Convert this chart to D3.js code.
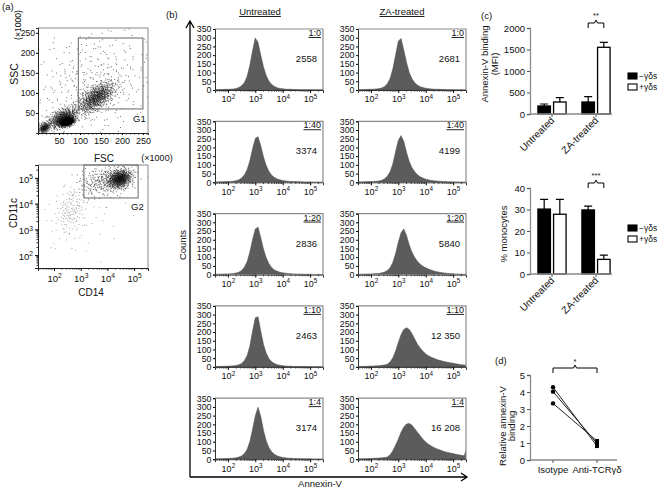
<!DOCTYPE html>
<html><head><meta charset="utf-8">
<script src="https://cdn.jsdelivr.net/npm/d3@7"></script>
<style>
body{margin:0;background:#fff}
svg{display:block}
text{font-family:"Liberation Sans",Arial,Helvetica,sans-serif;fill:#111}
</style>
</head><body>
<svg id="c" width="661" height="489"></svg>
<script>
// ---------------- DATA ----------------
// (a) scatter clusters (FSC/SSC x1000)
const fscSscClusters = [
  {cx:68, cy:29, sx:8, sy:5, rho:0.35, n:900, b:[2,3]},
  {cx:58, cy:38, sx:17, sy:13, rho:0.5, n:650, b:[3,5]},
  {cx:14, cy:14, sx:7, sy:7, rho:0.4, n:200, b:[5,7]},
  {cx:138, cy:90, sx:22, sy:19, rho:0.6, n:800, b:[2,5]},
  {cx:130, cy:125, sx:75, sy:70, rho:0.2, n:380, b:[3,7]}
];
const fscTicks = [50,100,150,200,250];
const sscTicks = [50,100,150,200,250];
const gateG1 = {x0:96, x1:250, y0:60, y1:237};
// (a) CD14/CD11c clusters (log10 units)
const cd14Cd11cClusters = [
  {cx:4.45, cy:4.98, sx:0.22, sy:0.18, rho:0.2, n:650, b:[2,3]},
  {cx:3.9, cy:4.9, sx:0.5, sy:0.3, rho:0.3, n:320, b:[3,5]},
  {cx:2.6, cy:3.75, sx:0.3, sy:0.45, rho:0.3, n:130, b:[5,7]},
  {cx:3.0, cy:3.4, sx:0.8, sy:0.9, rho:0.2, n:50, b:[2,7]}
];
const logTicks = [2,3,4,5];
const gateG2 = {x0:3.12, x1:5.15, y0:4.22, y1:5.5};

// (b) histograms: log10(Annexin-V) bins and counts
const histBins = [1.5,1.6,1.7,1.8,1.9,2.0,2.1,2.2,2.3,2.4,2.5,2.6,2.7,2.8,2.9,3.0,3.1,3.2,3.3,3.4,3.5,3.6,3.7,3.8,3.9,4.0,4.1,4.2,4.3,4.4,4.5,4.6,4.7,4.8,4.9,5.0,5.1,5.2,5.3,5.4,5.5];
const untreated_1_0  = [2,2,3,3,4,4,5,6,9,14,24,42,78,140,225,298,272,200,132,82,50,31,20,13,9,7,5,4,4,3,3,2,2,2,2,1,1,1,1,1,1];
const zaTreated_1_0  = [2,2,3,3,4,4,5,6,8,12,20,36,66,120,200,280,296,230,158,100,64,42,28,19,14,10,8,6,5,4,4,3,3,2,2,2,1,1,1,1,1];
const untreated_1_40 = [2,2,3,3,4,4,5,6,9,14,24,42,72,122,192,252,262,210,145,96,62,40,27,19,14,10,8,6,5,4,4,3,3,2,2,2,1,1,1,1,1];
const zaTreated_1_40 = [2,2,3,3,4,4,5,6,8,12,20,34,60,105,175,240,268,235,172,120,84,60,43,32,24,18,14,11,9,7,6,5,4,3,3,2,2,2,1,1,1];
const untreated_1_20 = [2,2,3,3,4,4,5,6,9,14,24,42,74,128,200,262,272,212,146,96,62,40,27,19,14,10,8,6,5,4,4,3,3,2,2,2,1,1,1,1,1];
const zaTreated_1_20 = [2,2,3,3,4,4,5,6,7,10,15,24,40,70,120,185,240,262,225,170,128,98,76,60,48,39,32,26,21,17,14,11,9,7,6,5,4,3,3,2,2];
const untreated_1_10 = [2,2,3,3,4,4,5,6,8,12,20,36,64,118,205,282,288,205,128,78,47,29,19,13,9,7,5,4,4,3,3,2,2,2,1,1,1,1,1,1,1];
const zaTreated_1_10 = [2,2,3,3,4,4,5,6,7,9,11,15,28,52,90,140,185,215,225,215,190,160,130,108,90,74,64,56,49,43,38,34,30,27,24,21,18,15,13,11,9];
const untreated_1_4  = [2,2,3,3,4,4,5,6,8,12,19,32,56,100,170,250,298,245,165,105,66,42,28,19,14,10,8,6,5,4,4,3,3,2,2,2,1,1,1,1,1];
const zaTreated_1_4  = [2,2,3,3,4,4,5,6,7,8,10,12,25,48,80,115,155,185,202,205,195,175,155,135,115,98,86,76,67,60,54,48,43,39,35,32,28,25,22,20,60];
const ratioLabels = ["1:0","1:40","1:20","1:10","1:4"];
const mfiUntreated = ["2558","3374","2836","2463","3174"];
const mfiZA = ["2681","4199","5840","12 350","16 208"];
const countTicks = [0,50,100,150,200,250,300,350];

// (c) bar charts
const groups = ["Untreated","ZA-treated"];
const seriesNames = ["\u2212\u03b3\u03b4s","+\u03b3\u03b4s"];
const mfiMinus = [186,279],   mfiMinusErr = [47,123];
const mfiPlus  = [279,1551],  mfiPlusErr  = [100,116];
const mfiTicks = [0,500,1000,1500,2000];
const monoMinus = [30.2,29.8], monoMinusErr = [4.5,1.8];
const monoPlus  = [27.8,6.8],  monoPlusErr  = [6.9,2.0];
const monoTicks = [0,10,20,30,40];

// (d) paired
const pairCats = ["Isotype","Anti-TCR\u03b3\u03b4"];
const isotypeVals = [4.28,4.02,3.33];
const antiTcrVals = [0.82,0.98,1.12];
const relTicks = [0,1,2,3,4,5];

// ---------------- DRAW ----------------
const svg = d3.select("#c");
const defs = svg.append("defs");
const fmtInt = d3.format("d");

function txt(g, x, y, s, size, anchor, rot){
  const t = g.append("text").attr("x",x).attr("y",y).attr("font-size",size)
    .attr("text-anchor",anchor||"start").text(s);
  if(rot) t.attr("transform",`rotate(${rot},${x},${y})`);
  return t;
}
function pow10(t, e){
  t.text(null);
  t.append("tspan").text("10");
  t.append("tspan").attr("dy",-3.5).attr("font-size","0.7em").text(e);
}
function halton(i,b){let f=1,r=0;while(i>0){f/=b;r+=f*(i%b);i=Math.floor(i/b);}return r;}
function clusterPts(c){
  const pts=[];
  for(let i=1;i<=c.n;i++){
    const u=halton(i+17,c.b[0]), v=halton(i+17,c.b[1]);
    const rr=Math.sqrt(-2*Math.log(Math.max(u,1e-6)));
    const z1=rr*Math.cos(2*Math.PI*v), z2=rr*Math.sin(2*Math.PI*v);
    pts.push([c.cx+c.sx*z1, c.cy+c.sy*(c.rho*z1+Math.sqrt(1-c.rho*c.rho)*z2)]);
  }
  return pts;
}

// panel labels
txt(svg,2,10,"(a)",9.5);
txt(svg,166,18,"(b)",9.5);
txt(svg,481,19,"(c)",9.5);
txt(svg,495,364,"(d)",9.5);

// ---- (a) top scatter
{
  const L=38,R=148,T=28,B=133;
  const x=d3.scaleLinear().domain([0,262]).range([L,R]);
  const y=d3.scaleLinear().domain([0,262]).range([B,T]);
  defs.append("clipPath").attr("id","cs1").append("rect").attr("x",L).attr("y",T).attr("width",R-L).attr("height",B-T);
  const g=svg.append("g").attr("clip-path","url(#cs1)");
  fscSscClusters.forEach(c=>{
    g.selectAll(null).data(clusterPts(c)).enter().append("rect")
      .attr("x",d=>x(d[0])).attr("y",d=>y(d[1])).attr("width",1).attr("height",1)
      .attr("fill","#000").attr("opacity",0.55);
  });
  svg.append("path").attr("d",`M${L},${T}H${R}V${B}`).attr("fill","none").attr("stroke","#888");
  svg.append("rect").attr("x",x(gateG1.x0)).attr("y",y(gateG1.y1)).attr("width",x(gateG1.x1)-x(gateG1.x0))
    .attr("height",y(gateG1.y0)-y(gateG1.y1)).attr("fill","none").attr("stroke","#666");
  txt(svg,133,122,"G1",9.5);
  const ax=svg.append("g").attr("transform",`translate(0,${B})`).call(d3.axisBottom(x).tickValues(fscTicks).tickSize(2).tickPadding(3));
  const ay=svg.append("g").attr("transform",`translate(${L},0)`).call(d3.axisLeft(y).tickValues(sscTicks).tickSize(2).tickPadding(1));
  ax.selectAll("text").attr("font-size",9).attr("font-family",null);
  ay.selectAll("text").attr("font-size",8.6).attr("font-family",null);
  [ax,ay].forEach(a=>a.select(".domain").attr("stroke","#222"));
  svg.append("g").selectAll("line").data(d3.range(10,261,10).filter(v=>v%50)).enter().append("line")
    .attr("x1",d=>x(d)).attr("x2",d=>x(d)).attr("y1",B).attr("y2",B+1.5).attr("stroke","#222");
  txt(svg,18,74,"SSC",10.5,"middle",-90);
  txt(svg,21,25,"(\u00d71000)",8.6,"middle",-90);
  txt(svg,104,162,"FSC",10,"middle");
  txt(svg,157,161,"(\u00d71000)",9,"middle");
}

// ---- (a) bottom scatter
{
  const L=38,R=148,T=165,B=268;
  const x=d3.scaleLinear().domain([1.4,5.52]).range([L,R]);
  const y=d3.scaleLinear().domain([1.5,5.5]).range([B,T]);
  defs.append("clipPath").attr("id","cs2").append("rect").attr("x",L).attr("y",T).attr("width",R-L).attr("height",B-T);
  const g=svg.append("g").attr("clip-path","url(#cs2)");
  cd14Cd11cClusters.forEach((c,i)=>{
    g.selectAll(null).data(clusterPts(c)).enter().append("rect")
      .attr("x",d=>x(d[0])).attr("y",d=>y(d[1])).attr("width",1).attr("height",1)
      .attr("fill",i<2?"#000":"#222").attr("opacity",i<2?0.55:0.4);
  });
  svg.append("path").attr("d",`M${L},${T}H${R}V${B}`).attr("fill","none").attr("stroke","#888");
  svg.append("rect").attr("x",x(gateG2.x0)).attr("y",y(gateG2.y1)).attr("width",x(gateG2.x1)-x(gateG2.x0))
    .attr("height",y(gateG2.y0)-y(gateG2.y1)).attr("fill","none").attr("stroke","#666");
  txt(svg,131,210,"G2",9.5);
  const ax=svg.append("g").attr("transform",`translate(0,${B})`).call(d3.axisBottom(x).tickValues(logTicks).tickSize(3).tickPadding(4));
  const ay=svg.append("g").attr("transform",`translate(${L},0)`).call(d3.axisLeft(y).tickValues(logTicks).tickSize(3).tickPadding(2));
  [ax,ay].forEach(a=>{a.selectAll(".tick text").attr("font-size",9.5).attr("font-family",null).each(function(d){pow10(d3.select(this),d);});a.select(".domain").attr("stroke","#222");});
  ay.selectAll(".tick text").attr("dy","0.45em");
  const minors=[];
  for(let k=1;k<=5;k++)for(let m=2;m<=9;m++)minors.push(k+Math.log10(m));
  svg.append("g").selectAll("line").data(minors.filter(v=>v>1.4&&v<5.52)).enter().append("line")
    .attr("x1",d=>x(d)).attr("x2",d=>x(d)).attr("y1",B).attr("y2",B+1.5).attr("stroke","#222");
  svg.append("g").selectAll("line").data(minors.filter(v=>v>1.5&&v<5.5)).enter().append("line")
    .attr("y1",d=>y(d)).attr("y2",d=>y(d)).attr("x1",L).attr("x2",L-1.5).attr("stroke","#222");
  txt(svg,17,213,"CD11c",10,"middle",-90);
  txt(svg,91,296,"CD14",10,"middle");
}

// ---- (b) histograms
{
  const rows=[[untreated_1_0,zaTreated_1_0],[untreated_1_40,zaTreated_1_40],[untreated_1_20,zaTreated_1_20],
              [untreated_1_10,zaTreated_1_10],[untreated_1_4,zaTreated_1_4]];
  const colLeft=[215,358], hw=108, hh=61;
  const rowTop=[29,121.3,213.6,305.9,398.2];
  const hx=d3.scaleLinear().domain([1.53,5.47]).range([0,hw]);
  const hy=d3.scaleLinear().domain([0,350]).range([hh,0]);
  defs.append("clipPath").attr("id","ch").append("rect").attr("x",0).attr("y",-2).attr("width",hw).attr("height",hh+2);
  const area=d3.area().x((d,i)=>hx(histBins[i])).y0(hh).y1(d=>hy(d));
  const minors=[];
  for(let k=1;k<=5;k++)for(let m=2;m<=9;m++)minors.push(k+Math.log10(m));
  rows.forEach((pair,r)=>{
    pair.forEach((vals,c)=>{
      const g=svg.append("g").attr("transform",`translate(${colLeft[c]},${rowTop[r]})`);
      g.append("path").attr("clip-path","url(#ch)").attr("d",area(vals)).attr("fill","#5c5c5c").attr("stroke","#4a4a4a").attr("stroke-width",0.5);
      g.append("path").attr("d",`M0,0H${hw}V${hh}`).attr("fill","none").attr("stroke","#8a8a8a").attr("stroke-width",1.2);
      const ay=g.append("g").call(d3.axisLeft(hy).tickValues(countTicks).tickSize(2).tickPadding(1.5));
      ay.selectAll("text").attr("font-size",8.8).attr("font-family",null);
      ay.select(".domain").attr("stroke","#333");
      const ax=g.append("g").attr("transform",`translate(0,${hh})`).call(d3.axisBottom(hx).tickValues(logTicks).tickSize(3).tickPadding(3));
      ax.selectAll(".tick text").attr("font-size",9).attr("font-family",null).each(function(d){pow10(d3.select(this),d);});
      ax.select(".domain").attr("stroke","#333");
      g.append("g").selectAll("line").data(minors.filter(v=>v>1.53&&v<5.47)).enter().append("line")
        .attr("x1",d=>hx(d)).attr("x2",d=>hx(d)).attr("y1",hh).attr("y2",hh+1.6).attr("stroke","#333");
      txt(g,hw-2,7,ratioLabels[r],9,"end").style("text-decoration","underline");
      txt(g,hw-6,33,c===0?mfiUntreated[r]:mfiZA[r],9.5,"end");
    });
  });
  txt(svg,260,15,"Untreated",9.5,"middle").style("text-decoration","underline");
  txt(svg,402,15,"ZA-treated",9.5,"middle").style("text-decoration","underline");
  svg.append("path").attr("d","M190,477V22M186,28L190,21L194,28M190,477H467M461,473L467,477L461,481")
    .attr("fill","none").attr("stroke","#000").attr("stroke-width",1.3);
  txt(svg,186,245,"Counts",9.5,"middle",-90);
  txt(svg,320,487,"Annexin-V",9.5,"middle");
}

// ---- (c) bar charts
function barChart(T,B,yMax,ticks,minus,minusErr,plus,plusErr,legendY,stars,brY){
  const y=d3.scaleLinear().domain([0,yMax]).range([B,T]);
  const x0=d3.scaleBand().domain(groups).range([530,618]).paddingInner(0.36).paddingOuter(0.18);
  const x1=d3.scaleBand().domain(seriesNames).range([0,x0.bandwidth()]).paddingInner(0.2);
  const data=[];
  groups.forEach((gname,i)=>{
    data.push({g:gname,s:seriesNames[0],v:minus[i],e:minusErr[i]});
    data.push({g:gname,s:seriesNames[1],v:plus[i],e:plusErr[i]});
  });
  const g=svg.append("g");
  g.selectAll(".eb").data(data).enter().append("path")
    .attr("d",d=>{const cx=x0(d.g)+x1(d.s)+x1.bandwidth()/2;const yt=y(d.v+d.e);
      return `M${cx},${y(d.v)}V${yt}M${cx-4},${yt}H${cx+4}`;})
    .attr("stroke","#000").attr("stroke-width",1.2).attr("fill","none");
  g.selectAll(".bar").data(data).enter().append("rect")
    .attr("x",d=>x0(d.g)+x1(d.s)).attr("y",d=>y(d.v)).attr("width",x1.bandwidth()).attr("height",d=>B-y(d.v))
    .attr("fill",d=>d.s===seriesNames[0]?"#000":"#fff").attr("stroke","#000").attr("stroke-width",1.3);
  const ay=svg.append("g").attr("transform","translate(530,0)").call(d3.axisLeft(y).tickValues(ticks).tickFormat(fmtInt).tickSize(3).tickPadding(2));
  ay.selectAll("text").attr("font-size",9.5).attr("font-family",null);
  ay.select(".domain").attr("stroke","#8a8a8a").attr("stroke-width",1.3);
  ay.selectAll(".tick line").attr("stroke","#555");
  svg.append("line").attr("x1",530).attr("x2",612).attr("y1",B).attr("y2",B).attr("stroke","#8a8a8a").attr("stroke-width",1.3);
  groups.forEach(gname=>{
    const cx=x0(gname)+x0.bandwidth()/2;
    svg.append("line").attr("x1",cx).attr("x2",cx).attr("y1",B).attr("y2",B+3).attr("stroke","#555");
    txt(svg,cx+3,B+7,gname,10,"end",-45);
  });
  seriesNames.forEach((s,i)=>{
    svg.append("rect").attr("x",628).attr("y",legendY+i*11-3).attr("width",9).attr("height",6)
      .attr("fill",i===0?"#000":"#fff").attr("stroke","#000").attr("stroke-width",1.1);
    txt(svg,639,legendY+i*11+3,s,8.5);
  });
  const a=x0("ZA-treated")+x1(seriesNames[0])+x1.bandwidth()/2, b=x0("ZA-treated")+x1(seriesNames[1])+x1.bandwidth()/2;
  const m=(a+b)/2;
  svg.append("path").attr("d",`M${a},${brY+5}V${brY}H${m-1.5}L${m},${brY-3}L${m+1.5},${brY}H${b}V${brY+5}`)
    .attr("fill","none").attr("stroke","#000").attr("stroke-width",1);
  txt(svg,m,brY-5,stars,7.5,"middle");
}
barChart(28,114,2000,mfiTicks,mfiMinus,mfiMinusErr,mfiPlus,mfiPlusErr,76,"**",23);
txt(svg,488,64,"Annexin-V binding",9.5,"middle",-90);
txt(svg,498,64,"(MFI)",9.5,"middle",-90);
barChart(188,274,40,monoTicks,monoMinus,monoMinusErr,monoPlus,monoPlusErr,228,"***",183);
txt(svg,507,234,"% monocytes",9.5,"middle",-90);

// ---- (d) paired
{
  const y=d3.scaleLinear().domain([0,5]).range([460,375]);
  const x=d3.scalePoint().domain(pairCats).range([553,597]);
  const ay=svg.append("g").attr("transform","translate(530,0)").call(d3.axisLeft(y).tickValues(relTicks).tickFormat(fmtInt).tickSize(3).tickPadding(2));
  ay.selectAll("text").attr("font-size",9.5).attr("font-family",null);
  ay.select(".domain").attr("stroke","#8a8a8a").attr("stroke-width",1.3);
  ay.selectAll(".tick line").attr("stroke","#555");
  svg.append("line").attr("x1",530).attr("x2",617).attr("y1",460).attr("y2",460).attr("stroke","#8a8a8a").attr("stroke-width",1.3);
  pairCats.forEach(c=>{
    svg.append("line").attr("x1",x(c)).attr("x2",x(c)).attr("y1",460).attr("y2",463).attr("stroke","#555");
    txt(svg,x(c),473,c,9.5,"middle");
  });
  isotypeVals.forEach((v,i)=>{
    svg.append("line").attr("x1",x(pairCats[0])).attr("y1",y(v)).attr("x2",x(pairCats[1])).attr("y2",y(antiTcrVals[i]))
      .attr("stroke","#222").attr("stroke-width",1);
    svg.append("circle").attr("cx",x(pairCats[0])).attr("cy",y(v)).attr("r",2.2).attr("fill","#000");
    svg.append("rect").attr("x",x(pairCats[1])-2).attr("y",y(antiTcrVals[i])-2).attr("width",4).attr("height",4).attr("fill","#000");
  });
  const a=x(pairCats[0]), b=x(pairCats[1]), m=(a+b)/2, by=368;
  svg.append("path").attr("d",`M${a},${by+5}V${by}H${m-1.5}L${m},${by-3}L${m+1.5},${by}H${b}V${by+5}`)
    .attr("fill","none").attr("stroke","#000").attr("stroke-width",1);
  txt(svg,m,by-4,"*",7.5,"middle");
  txt(svg,506,426,"Relative annexin-V",9.5,"middle",-90);
  txt(svg,515,426,"binding",9.5,"middle",-90);
}
</script>
</body></html>
